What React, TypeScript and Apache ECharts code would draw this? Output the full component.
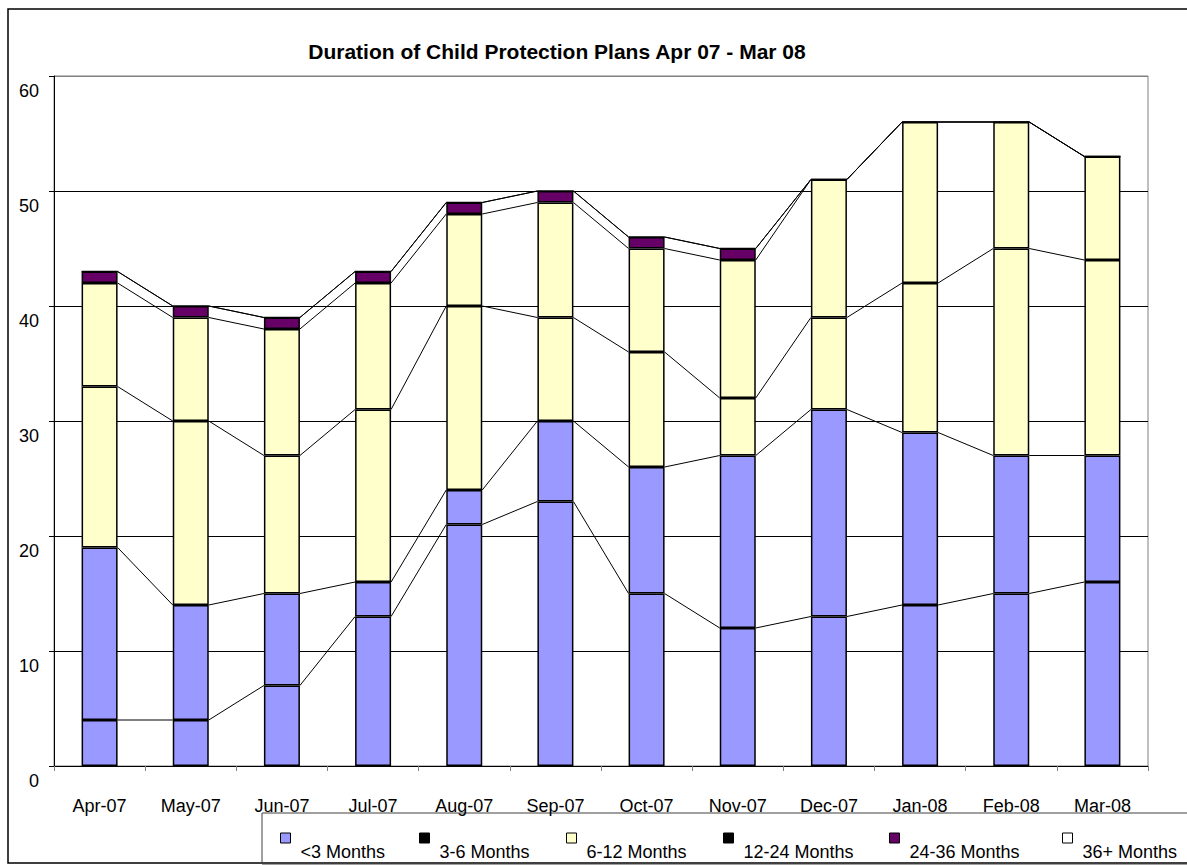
import React, { useEffect, useRef } from "react";
import * as echarts from "echarts";

const months = ["Apr-07", "May-07", "Jun-07", "Jul-07", "Aug-07", "Sep-07", "Oct-07", "Nov-07", "Dec-07", "Jan-08", "Feb-08", "Mar-08"];
const seriesNames = ["<3 Months", "3-6 Months", "6-12 Months", "12-24 Months", "24-36 Months", "36+ Months"];
const lt3 = [4, 4, 7, 13, 21, 23, 15, 12, 13, 14, 15, 16];
const m3to6 = [15, 10, 8, 3, 3, 7, 11, 15, 18, 15, 12, 11];
const m6to12 = [14, 16, 12, 15, 16, 9, 10, 5, 8, 13, 18, 17];
const m12to24 = [9, 9, 11, 11, 8, 10, 9, 12, 12, 14, 11, 9];
const m24to36 = [1, 1, 1, 1, 1, 1, 1, 1, 0, 0, 0, 0];
const m36plus = [0, 0, 0, 0, 0, 0, 0, 0, 0, 0, 0, 0];
const yTicks = [0, 10, 20, 30, 40, 50, 60];

const barColors = ["#9999FF", "#9999FF", "#FFFFCC", "#FFFFCC", "#660066", "#FFFFFF"];
const legendColors = ["#9999FF", "#000000", "#FFFFCC", "#000000", "#660066", "#FFFFFF"];
const legendLeft = [280, 419, 566, 723, 889, 1062];

const FONT = "'Liberation Sans', Arial, sans-serif";
const BAR_W = 36;

export default function App() {
  const ref = useRef<HTMLDivElement>(null);
  useEffect(() => {
    if (!ref.current) return;
    const chart = echarts.init(ref.current, null, { renderer: "svg" });
    const stacks = [lt3, m3to6, m6to12, m12to24, m24to36, m36plus];
    const cumulative = months.map((_, i) => {
      let s = 0;
      return stacks.map((a) => (s += a[i]));
    });

    const barSeries = stacks.map((arr, k) => ({
      name: seriesNames[k],
      type: "bar",
      stack: "total",
      barWidth: BAR_W,
      data: arr,
      itemStyle: { color: barColors[k], borderColor: "#000", borderWidth: 1.5 },
      emphasis: { disabled: true },
    }));

    const linesSeries = {
      name: "series-lines",
      type: "custom",
      data: months.map((_, i) => [i, cumulative[i][5]]),
      encode: { x: 0, y: 1 },
      silent: true,
      z: 3,
      renderItem: (params: any, api: any) => {
        const i = api.value(0);
        if (i >= months.length - 1) return { type: "group", children: [] };
        const children = cumulative[i].map((v, k) => {
          const a = api.coord([i, v]);
          const b = api.coord([i + 1, cumulative[i + 1][k]]);
          return {
            type: "line",
            shape: { x1: a[0] + BAR_W / 2, y1: a[1], x2: b[0] - BAR_W / 2, y2: b[1] },
            style: { stroke: "#000", lineWidth: 1 },
          };
        });
        return { type: "group", children };
      },
    };

    const legends = seriesNames.map((n, k) => ({
      data: [{ name: n, itemStyle: { color: legendColors[k], borderColor: "#000", borderWidth: 1 } }],
      left: legendLeft[k],
      top: 810,
      padding: 0,
      itemWidth: 10,
      itemHeight: 10,
      icon: "rect",
      selectedMode: false,
      formatter: (name: string) => "\n " + name,
      textStyle: { fontFamily: FONT, fontSize: 18, color: "#000", lineHeight: 28 },
    }));

    chart.setOption({
      animation: false,
      backgroundColor: "#fff",
      title: {
        text: "Duration of Child Protection Plans Apr 07 - Mar 08",
        left: 557,
        top: 41,
        textAlign: "center",
        padding: 0,
        textStyle: { fontFamily: FONT, fontSize: 21, fontWeight: "bold", color: "#000" },
      },
      legend: legends,
      grid: { left: 54, right: 39, top: 76, bottom: 99, show: true, borderColor: "#808080", borderWidth: 1 },
      xAxis: {
        type: "category",
        data: months,
        boundaryGap: true,
        axisLine: { lineStyle: { color: "#000", width: 1 } },
        axisTick: { show: true, length: 5, lineStyle: { color: "#808080" } },
        axisLabel: { fontFamily: FONT, fontSize: 18, color: "#000", margin: 31, interval: 0 },
      },
      yAxis: {
        type: "value",
        min: yTicks[0],
        max: yTicks[yTicks.length - 1],
        interval: 10,
        axisLine: { show: true, lineStyle: { color: "#000", width: 1 } },
        axisTick: { show: true, length: 5, lineStyle: { color: "#000" } },
        axisLabel: {
          fontFamily: FONT,
          fontSize: 18,
          color: "#000",
          margin: 15,
          verticalAlign: "top",
          lineHeight: 29,
        },
        splitLine: {
          show: true,
          lineStyle: { color: ["#000", "#000", "#000", "#000", "#000", "#000", "#808080"], width: 1 },
        },
      },
      graphic: [
        {
          type: "rect",
          shape: { x: 8, y: 9, width: 1200, height: 854 },
          style: { fill: "none", stroke: "#000", lineWidth: 1.5 },
          silent: true,
        },
        {
          type: "rect",
          shape: { x: 262, y: 813, width: 1000, height: 51 },
          style: { fill: "none", stroke: "#404040", lineWidth: 1 },
          silent: true,
        },
      ],
      series: [...barSeries, linesSeries],
    });
    return () => chart.dispose();
  }, []);
  return (
    <div
      ref={ref}
      style={{ position: "absolute", left: 0, top: 0, width: 1187, height: 865 }}
    />
  );
}
